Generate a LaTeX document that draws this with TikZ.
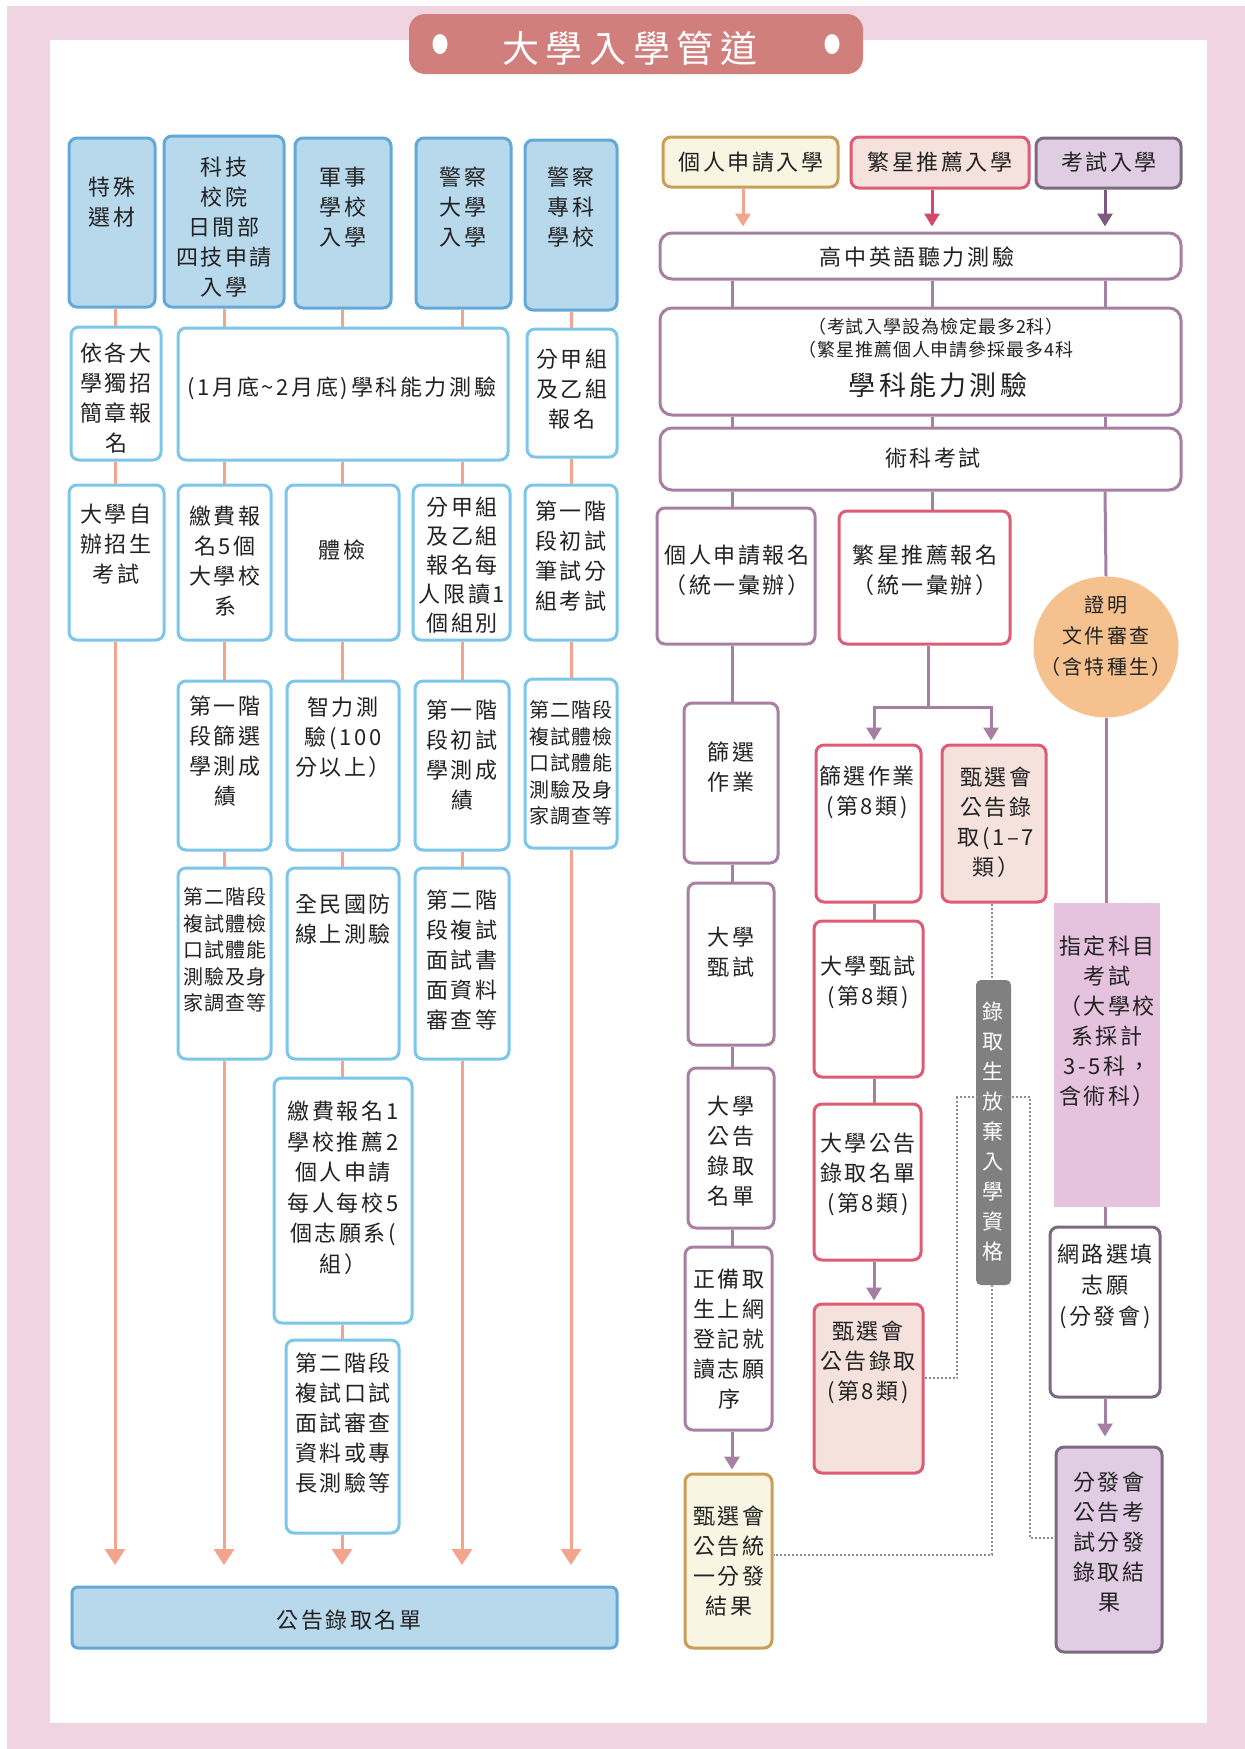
\documentclass[tikz,border=0pt]{standalone}
\usepackage{fontspec}
\setmainfont[LetterSpace=12]{Noto Sans CJK TC}
\newfontfamily\titlefont[LetterSpace=18]{Noto Sans CJK TC}
\newfontfamily\smallfont[LetterSpace=5]{Noto Sans CJK TC}
\usetikzlibrary{arrows.meta,fit,shapes.geometric}
\definecolor{pinkbg}{HTML}{F0D4E1}
\definecolor{titleC}{HTML}{D17F7C}
\definecolor{blueF}{HTML}{B8D9EC}
\definecolor{blueB}{HTML}{62A8D8}
\definecolor{blueL}{HTML}{7CC6EA}
\definecolor{salmonC}{HTML}{F3A48D}
\definecolor{purpC}{HTML}{A77FA3}
\definecolor{crimC}{HTML}{DE5B76}
\definecolor{crimA}{HTML}{D4486A}
\definecolor{goldC}{HTML}{C99E58}
\definecolor{creamC}{HTML}{F8F6E3}
\definecolor{lavC}{HTML}{E0CCE3}
\definecolor{lavB}{HTML}{7B6A80}
\definecolor{lavA}{HTML}{7A5A7E}
\definecolor{pinkF}{HTML}{F5E2DD}
\definecolor{peachC}{HTML}{F5C28F}
\definecolor{zdC}{HTML}{E5C2DD}
\definecolor{grayL}{HTML}{808080}
\definecolor{dotC}{HTML}{8C8C8C}
\definecolor{inkC}{HTML}{222222}
\begin{document}
\begin{tikzpicture}[x=1pt,y=-1pt,
  bxbase/.style={line width=3pt,rounded corners=8pt,inner sep=0pt},
  blueTop/.style={bxbase,draw=blueB,fill=blueF},
  blueBox/.style={bxbase,draw=blueL,fill=white},
  purBox/.style={bxbase,draw=purpC,fill=white},
  crimBox/.style={bxbase,draw=crimC,fill=white},
  crimPink/.style={bxbase,draw=crimC,fill=pinkF},
  goldBox/.style={bxbase,draw=goldC,fill=creamC},
  lavBox/.style={bxbase,draw=lavB,fill=lavC},
  gpBox/.style={bxbase,draw=lavB,fill=white},
  txt/.style={inner sep=0pt,align=center,text=inkC,font=\fontsize{22}{30}\selectfont},
  stxt/.style={inner sep=0pt,align=center,text=inkC,font=\smallfont\fontsize{20}{26.5}\selectfont},
  sal/.style={draw=salmonC,line width=3pt},
  pl/.style={draw=purpC,line width=3pt},
  arrL/.style={-{Triangle[width=20pt,length=16pt]}},
  arrR/.style={-{Triangle[width=15pt,length=13pt]}},
  dotline/.style={draw=dotC,line width=2pt,dash pattern=on 2pt off 2pt}
]
\useasboundingbox (0,0) rectangle (1245,1749);
\fill[white] (0,0) rectangle (1245,1749);
\fill[pinkbg] (7,6) rectangle (1245,1749);
\fill[white] (50,40) rectangle (1207,1723);

% title
\node[fill=titleC,rounded corners=16pt,inner sep=0pt,fit={(409,14)(863,74)}] (TT) {};
\node[ellipse,fill=white,minimum width=15pt,minimum height=20pt,inner sep=0pt] (TD1) at (440,44) {};
\node[ellipse,fill=white,minimum width=15pt,minimum height=20pt,inner sep=0pt] (TD2) at (832,44) {};
\node[inner sep=0pt,text=white,font=\titlefont\fontsize{37}{40}\selectfont] (TTt) at (630,48) {大學入學管道};

% ---------------- left side ----------------
\coordinate (A1) at (115,1565);
\coordinate (A2) at (224,1565);
\coordinate (A3) at (342,1565);
\coordinate (A4) at (462,1565);
\coordinate (A5) at (571,1565);

\node[blueTop,fit={(69,138)(155,307)}] (L1) {};
\node[txt] (L1t) at (112,202) {特殊\\選材};
\node[blueTop,fit={(164,136)(284,307)}] (L2) {};
\node[txt] (L2t) at (224,227) {科技\\校院\\日間部\\四技申請\\入學};
\node[blueTop,fit={(295,138)(391,308)}] (L3) {};
\node[txt] (L3t) at (343,207) {軍事\\學校\\入學};
\node[blueTop,fit={(416,138)(511,308)}] (L4) {};
\node[txt] (L4t) at (463,207) {警察\\大學\\入學};
\node[blueTop,fit={(525,140)(617,310)}] (L5) {};
\node[txt] (L5t) at (571,207) {警察\\專科\\學校};

\node[blueBox,fit={(71,327)(161,460)}] (B1) {};
\node[txt] (B1t) at (116,398) {依各大\\學獨招\\簡章報\\名};
\node[blueBox,fit={(178,328)(508,460)}] (B2) {};
\node[txt] (B2t) at (342,388) {(1月底\textasciitilde2月底)學科能力測驗};
\node[blueBox,fit={(527,329)(617,457)}] (B3) {};
\node[txt] (B3t) at (572,389) {分甲組\\及乙組\\報名};

\node[blueBox,fit={(69,485)(164,640)}] (C1) {};
\node[txt] (C1t) at (116,544) {大學自\\辦招生\\考試};
\node[blueBox,fit={(178,485)(271,640)}] (C2) {};
\node[txt] (C2t) at (225,561) {繳費報\\名5個\\大學校\\系};
\node[blueBox,fit={(286,485)(399,640)}] (C3) {};
\node[txt] (C3t) at (342,550) {體檢};
\node[blueBox,fit={(413,485)(510,640)}] (C4) {};
\node[txt,font=\fontsize{22}{29}\selectfont] (C4t) at (462,565) {分甲組\\及乙組\\報名每\\人限讀1\\個組別};
\node[blueBox,fit={(525,485)(617,640)}] (C5) {};
\node[txt] (C5t) at (571,556) {第一階\\段初試\\筆試分\\組考試};

\node[blueBox,fit={(178,681)(271,850)}] (D2) {};
\node[txt] (D2t) at (225,751) {第一階\\段篩選\\學測成\\績};
\node[blueBox,fit={(287,681)(399,850)}] (D3) {};
\node[txt] (D3t) at (343,737) {智力測\\驗(100\\分以上）};
\node[blueBox,fit={(415,681)(509,850)}] (D4) {};
\node[txt] (D4t) at (462,755) {第一階\\段初試\\學測成\\績};
\node[blueBox,fit={(525,679)(617,848)}] (D5) {};
\node[stxt] (D5t) at (571,763) {第二階段\\複試體檢\\口試體能\\測驗及身\\家調查等};

\node[blueBox,fit={(178,868)(271,1059)}] (E2) {};
\node[stxt] (E2t) at (225,950) {第二階段\\複試體檢\\口試體能\\測驗及身\\家調查等};
\node[blueBox,fit={(287,868)(399,1059)}] (E3) {};
\node[txt] (E3t) at (343,919) {全民國防\\線上測驗};
\node[blueBox,fit={(415,868)(509,1059)}] (E4) {};
\node[txt] (E4t) at (462,960) {第二階\\段複試\\面試書\\面資料\\審查等};

\node[blueBox,fit={(274,1078)(412,1323)}] (F3) {};
\node[txt,font=\fontsize{22}{30.5}\selectfont] (F3t) at (343,1188) {繳費報名1\\學校推薦2\\個人申請\\每人每校5\\個志願系(\\組）};
\node[blueBox,fit={(286,1340)(399,1533)}] (G3) {};
\node[txt] (G3t) at (343,1423) {第二階段\\複試口試\\面試審查\\資料或專\\長測驗等};

\node[blueTop,rounded corners=6pt,fit={(72,1587)(617,1648)}] (BOT) {};
\node[txt] (BOTt) at (349,1620) {公告錄取名單};

% left connectors
\draw[sal] (L1.south -| A1) -- (B1.north -| A1);
\draw[sal] (B1.south -| A1) -- (C1.north -| A1);
\draw[sal,arrL] (C1.south -| A1) -- (A1);

\draw[sal] (L2.south -| A2) -- (B2.north -| A2);
\draw[sal] (B2.south -| A2) -- (C2.north -| A2);
\draw[sal] (C2.south -| A2) -- (D2.north -| A2);
\draw[sal] (D2.south -| A2) -- (E2.north -| A2);
\draw[sal,arrL] (E2.south -| A2) -- (A2);

\draw[sal] (L3.south -| A3) -- (B2.north -| A3);
\draw[sal] (B2.south -| A3) -- (C3.north -| A3);
\draw[sal] (C3.south -| A3) -- (D3.north -| A3);
\draw[sal] (D3.south -| A3) -- (E3.north -| A3);
\draw[sal] (E3.south -| A3) -- (F3.north -| A3);
\draw[sal] (F3.south -| A3) -- (G3.north -| A3);
\draw[sal,arrL] (G3.south -| A3) -- (A3);

\draw[sal] (L4.south -| A4) -- (B2.north -| A4);
\draw[sal] (B2.south -| A4) -- (C4.north -| A4);
\draw[sal] (C4.south -| A4) -- (D4.north -| A4);
\draw[sal] (D4.south -| A4) -- (E4.north -| A4);
\draw[sal,arrL] (E4.south -| A4) -- (A4);

\draw[sal] (L5.south -| A5) -- (B3.north -| A5);
\draw[sal] (B3.south -| A5) -- (C5.north -| A5);
\draw[sal] (C5.south -| A5) -- (D5.north -| A5);
\draw[sal,arrL] (D5.south -| A5) -- (A5);

% ---------------- right side ----------------
\coordinate (cP) at (732,0);
\coordinate (cPa) at (743,0);
\coordinate (cS) at (932,0);
\coordinate (cE) at (1105,0);
\coordinate (cS2) at (874,0);

\node[goldBox,fit={(663,137)(838,187)}] (R1) {};
\node[txt] (R1t) at (751,162) {個人申請入學};
\node[crimPink,fit={(851,137)(1029,188)}] (R2) {};
\node[txt] (R2t) at (940,162) {繁星推薦入學};
\node[lavBox,fit={(1036,138)(1181,188)}] (R3) {};
\node[txt] (R3t) at (1109,162) {考試入學};

\node[purBox,rounded corners=12pt,fit={(660,233)(1181,279)}] (R4) {};
\node[txt] (R4t) at (917,257) {高中英語聽力測驗};
\node[purBox,rounded corners=12pt,fit={(660,308)(1181,415)}] (R5) {};
\node[inner sep=0pt,text=inkC,font=\smallfont\fontsize{18}{22}\selectfont] (R5a) at (936,327) {（考試入學設為檢定最多2科）};
\node[inner sep=0pt,text=inkC,font=\smallfont\fontsize{18}{22}\selectfont] (R5b) at (936,350) {（繁星推薦個人申請參採最多4科};
\node[inner sep=0pt,text=inkC,font=\fontsize{27}{32}\selectfont] (R5c) at (938,385) {學科能力測驗};
\node[purBox,rounded corners=12pt,fit={(660,428)(1181,490)}] (R6) {};
\node[txt] (R6t) at (933,458) {術科考試};

\draw[draw=salmonC,line width=3pt,arrR,shorten >=5pt] (R1.south -| cPa) -- (R4.north -| cPa);
\draw[draw=crimA,line width=3pt,arrR,shorten >=5pt] (R2.south -| cS) -- (R4.north -| cS);
\draw[draw=lavA,line width=3pt,arrR,shorten >=5pt] (R3.south -| cE) -- (R4.north -| cE);
\draw[pl] (R4.south -| cP) -- (R5.north -| cP);
\draw[pl] (R4.south -| cS) -- (R5.north -| cS);
\draw[pl] (R4.south -| cE) -- (R5.north -| cE);
\draw[pl] (R5.south -| cP) -- (R6.north -| cP);
\draw[pl] (R5.south -| cS) -- (R6.north -| cS);
\draw[pl] (R5.south -| cE) -- (R6.north -| cE);

\node[purBox,fit={(657,508)(815,644)}] (R7) {};
\node[txt] (R7t) at (737,570) {個人申請報名\\（統一彙辦）};
\node[crimBox,fit={(839,511)(1010,644)}] (R8) {};
\node[txt] (R8t) at (925,570) {繁星推薦報名\\（統一彙辦）};
\node[ellipse,fill=peachC,minimum width=145pt,minimum height=141pt,inner sep=0pt] (CIRC) at (1106,647) {};
\node[txt,font=\fontsize{20}{31}\selectfont] (CIRCt) at (1106,636) {證明\\文件審查\\（含特種生）};

\draw[pl] (R6.south -| cP) -- (R7.north -| cP);
\draw[pl] (R6.south -| cS) -- (R8.north -| cS);
\draw[pl] (R6.south -| cE) -- (CIRC.north);

\node[purBox,fit={(684,703)(778,863)}] (R9) {};
\node[txt] (R9t) at (731,767) {篩選\\作業};
\node[purBox,fit={(688,883)(774,1045)}] (R10) {};
\node[txt] (R10t) at (731,952) {大學\\甄試};
\node[purBox,fit={(688,1068)(774,1228)}] (R11) {};
\node[txt] (R11t) at (731,1151) {大學\\公告\\錄取\\名單};
\node[purBox,fit={(685,1247)(772,1430)}] (R12) {};
\node[txt] (R12t) at (729,1339) {正備取\\生上網\\登記就\\讀志願\\序};
\node[goldBox,fit={(685,1474)(772,1648)}] (R13) {};
\node[txt] (R13t) at (729,1561) {甄選會\\公告統\\一分發\\結果};

\draw[pl] (R7.south -| cP) -- (R9.north -| cP);
\draw[pl] (R9.south -| cP) -- (R10.north -| cP);
\draw[pl] (R10.south -| cP) -- (R11.north -| cP);
\draw[pl] (R11.south -| cP) -- (R12.north -| cP);
\draw[pl,arrR,shorten >=3pt] (R12.south -| cP) -- (R13.north -| cP);

\node[crimBox,fit={(816,745)(921,902)}] (S1) {};
\node[txt] (S1t) at (867,792) {篩選作業\\(第8類)};
\node[crimPink,fit={(942,745)(1046,902)}] (S2) {};
\node[txt] (S2t) at (996,822) {甄選會\\公告錄\\取(1–7\\類）};
\node[crimBox,fit={(814,921)(923,1077)}] (S3) {};
\node[txt] (S3t) at (868,982) {大學甄試\\(第8類)};
\node[crimBox,fit={(814,1104)(921,1260)}] (S4) {};
\node[txt] (S4t) at (868,1174) {大學公告\\錄取名單\\(第8類)};
\node[crimPink,fit={(814,1304)(923,1473)}] (S5) {};
\node[txt] (S5t) at (868,1362) {甄選會\\公告錄取\\(第8類)};

\coordinate (SP) at (928,707);
\coordinate (SPL) at (874,707);
\coordinate (SPR) at (991,707);
\draw[pl] (R8.south -| SP) -- (SP);
\draw[pl,arrR,shorten >=3pt] (SP) -- (SPL) -- (S1.north -| SPL);
\draw[pl,arrR,shorten >=3pt] (SP) -- (SPR) -- (S2.north -| SPR);
\draw[pl] (S1.south -| cS2) -- (S3.north -| cS2);
\draw[pl] (S3.south -| cS2) -- (S4.north -| cS2);
\draw[pl,arrR,shorten >=2pt] (S4.south -| cS2) -- (S5.north -| cS2);

\node[fill=zdC,inner sep=0pt,fit={(1054,903)(1160,1207)}] (T1) {};
\node[txt] (T1t) at (1107,1021) {指定科目\\考試\\（大學校\\系採計\\3-5科，\\含術科）};
\node[gpBox,fit={(1050,1227)(1160,1397)}] (T2) {};
\node[txt,font=\fontsize{22}{31}\selectfont] (T2t) at (1105,1286) {網路選填\\志願\\(分發會)};
\node[lavBox,fit={(1056,1447)(1162,1652)}] (T3) {};
\node[txt] (T3t) at (1109,1542) {分發會\\公告考\\試分發\\錄取結\\果};

\draw[pl] (CIRC.south) -- (T1.north -| CIRC.south);
\draw[pl] (T1.south -| cE) -- (T2.north -| cE);
\draw[pl,arrR,shorten >=9pt] (T2.south -| cE) -- (T3.north -| cE);

\node[fill=grayL,rounded corners=5pt,inner sep=0pt,fit={(976,980)(1011,1285)}] (LAB) {};
\node[inner sep=0pt,align=center,text=white,font=\fontsize{21}{30}\selectfont] (LABt) at (993,1132) {錄\\取\\生\\放\\棄\\入\\學\\資\\格};

\coordinate (D1) at (992,1555);
\draw[dotline] (S2.south -| D1) -- (LAB.north -| D1);
\draw[dotline] (LAB.south -| D1) -- (D1) -- (R13.east |- D1);
\coordinate (E1) at (957,1378);
\coordinate (E2c) at (957,1097);
\coordinate (E3c) at (1030,1097);
\coordinate (E4c) at (1030,1538);
\draw[dotline] (S5.east |- E1) -- (E1) -- (E2c) -- (E3c) -- (E4c) -- (T3.west |- E4c);
\end{tikzpicture}
\end{document}
